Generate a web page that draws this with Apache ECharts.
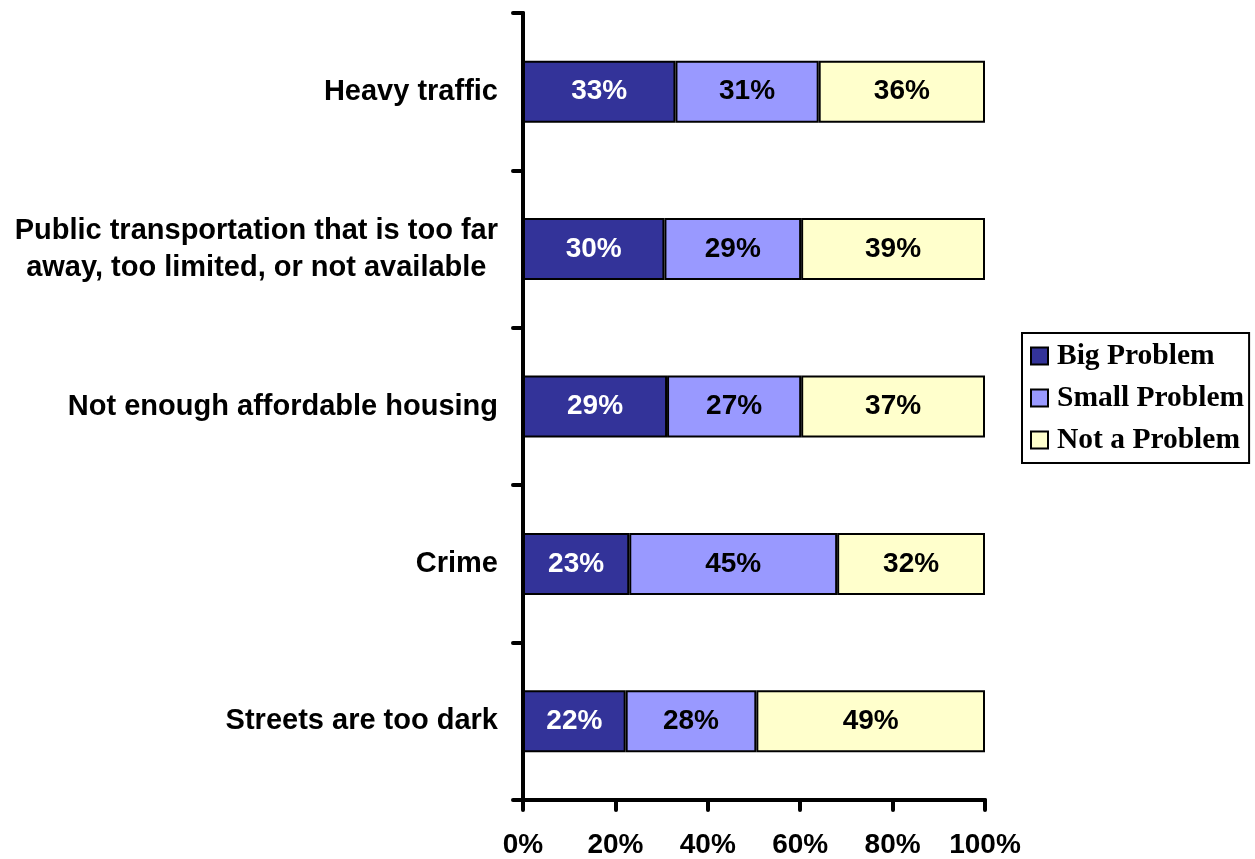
<!DOCTYPE html>
<html>
<head>
<meta charset="utf-8">
<script src="https://cdn.jsdelivr.net/npm/echarts@6/dist/echarts.min.js"></script>
<style>
html, body { margin: 0; padding: 0; background: #fff; }
#main { width: 1255px; height: 859px; }
</style>
</head>
<body>
<div id="main"></div>
<script>
// categories top to bottom
var categories = [
	'Heavy traffic',
	'Public transportation that is too far\naway, too limited, or not available',
	'Not enough affordable housing',
	'Crime',
	'Streets are too dark'
];
var seriesNames = ['Big Problem', 'Small Problem', 'Not a Problem'];
var bigProblem = [33, 30, 29, 23, 22];
var smallProblem = [31, 29, 27, 45, 28];
var notProblem = [36, 39, 37, 32, 49];
var xTicks = [0, 20, 40, 60, 80, 100];

var colors = ['#333399', '#9999FF', '#FFFFCC'];
var raw = [bigProblem, smallProblem, notProblem];
var FONT = 'Liberation Sans, Arial, sans-serif';

// each bar is drawn as a share of its row total (100% stacked)
var totals = categories.map(function (c, i) {
	return bigProblem[i] + smallProblem[i] + notProblem[i];
});

function makeSeries(k) {
	return {
		name: seriesNames[k],
		type: 'bar',
		stack: 'all',
		barWidth: 62,
		itemStyle: {
			color: colors[k],
			borderColor: '#000',
			borderWidth: 2
		},
		label: {
			show: true,
			position: 'inside',
			color: k === 0 ? '#fff' : '#000',
			fontSize: 28,
			fontWeight: 'bold',
			fontFamily: FONT,
			formatter: function (p) {
				return raw[k][p.dataIndex] + '%';
			}
		},
		data: raw[k].map(function (v, i) {
			return v / totals[i] * 100;
		})
	};
}

var option = {
	animation: false,
	grid: {
		left: 523,
		right: 270,
		top: 13,
		bottom: 59
	},
	legend: {
		orient: 'vertical',
		left: 1022,
		top: 333,
		align: 'left',
		data: seriesNames,
		icon: 'rect',
		itemWidth: 17,
		itemHeight: 17,
		itemGap: 12,
		padding: [8, 5, 8, 8],
		borderColor: '#000',
		borderWidth: 2,
		itemStyle: { borderColor: '#000', borderWidth: 2 },
		textStyle: {
			fontFamily: 'Liberation Serif, Times New Roman, serif',
			fontWeight: 'bold',
			fontSize: 29.5,
			color: '#000',
			padding: [0, 0, 0, 4]
		}
	},
	xAxis: {
		type: 'value',
		min: xTicks[0],
		max: xTicks[xTicks.length - 1],
		interval: 20,
		splitLine: { show: false },
		axisLine: { show: true, lineStyle: { color: '#000', width: 4, cap: 'round' } },
		axisTick: { show: true, length: 10, lineStyle: { color: '#000', width: 4, cap: 'round' } },
		axisLabel: {
			margin: 31,
			color: '#000',
			fontSize: 28,
			fontWeight: 'bold',
			fontFamily: FONT,
			formatter: '{value}%'
		}
	},
	yAxis: {
		type: 'category',
		inverse: true,
		data: categories,
		axisLine: { show: true, lineStyle: { color: '#000', width: 4, cap: 'round' } },
		axisTick: { show: true, length: 10, lineStyle: { color: '#000', width: 4, cap: 'round' } },
		axisLabel: {
			margin: 25,
			color: '#000',
			formatter: function (v) {
				return v.split('\n').map(function (l) { return '{c|' + l + '}'; }).join('\n');
			},
			rich: {
				c: {
					align: 'center',
					color: '#000',
					fontSize: 29,
					fontWeight: 'bold',
					fontFamily: FONT,
					lineHeight: 37
				}
			}
		}
	},
	series: [makeSeries(0), makeSeries(1), makeSeries(2)]
};

var myChart = echarts.init(document.getElementById('main'));
myChart.setOption(option);
</script>
</body>
</html>
